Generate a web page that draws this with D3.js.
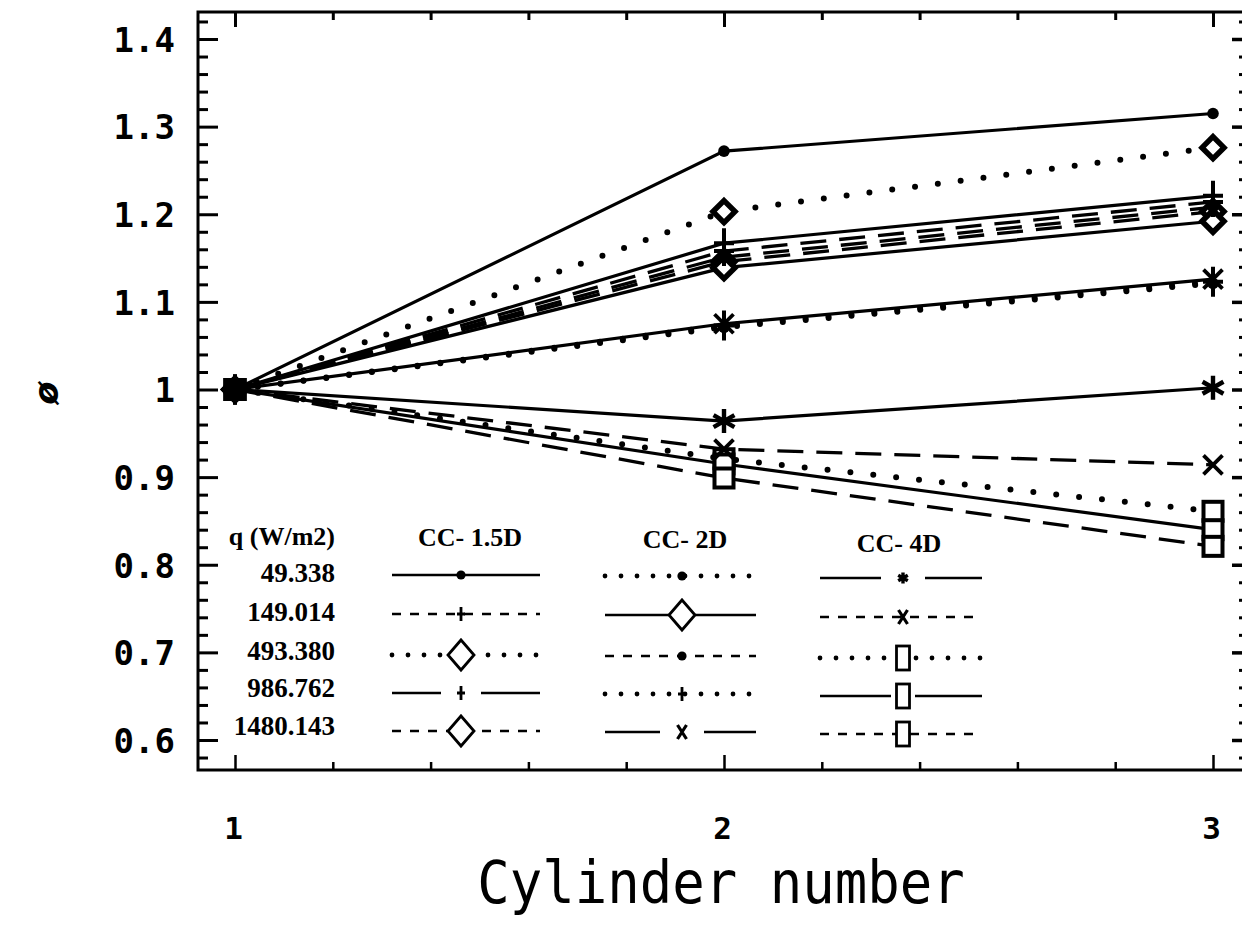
<!DOCTYPE html>
<html>
<head>
<meta charset="utf-8">
<script src="https://cdn.jsdelivr.net/npm/d3@7"></script>
<style>
  html, body { margin: 0; padding: 0; background: #fff; }
  svg { display: block; }
</style>
</head>
<body>
<svg id="chart" width="1242" height="940"></svg>
<script>
// ---- data ----
const cylinders = [1, 2, 3];
const heatFluxes = ["49.338", "149.014", "493.380", "986.762", "1480.143"];
const configs = ["CC- 1.5D", "CC- 2D", "CC- 4D"];
const yTickValues = [0.6, 0.7, 0.8, 0.9, 1.0, 1.1, 1.2, 1.3, 1.4];
const yTickLabels = ["0.6", "0.7", "0.8", "0.9", "1", "1.1", "1.2", "1.3", "1.4"];
const xTickValues = [1, 2, 3];
const xTickLabels = ["1", "2", "3"];

// phi at cylinders 1..3, one row per heat flux (same order as heatFluxes)
const cc15Values = [
  [1, 1.272, 1.315],
  [1, 1.158, 1.214],
  [1, 1.203, 1.276],
  [1, 1.167, 1.221],
  [1, 1.146, 1.203]
];
const cc2Values = [
  [1, 1.071, 1.121],
  [1, 1.139, 1.192],
  [1, 1.151, 1.208],
  [1, 1.073, 1.123],
  [1, 1.075, 1.126]
];
const cc4Values = [
  [1, 0.964, 1.002],
  [1, 0.932, 0.914],
  [1, 0.921, 0.861],
  [1, 0.915, 0.840],
  [1, 0.899, 0.821]
];

// ---- styling ----
const seriesStyles = [
  [ {line: "solid", marker: "dot"}, {line: "dashed", marker: "plus"}, {line: "dotted", marker: "diamond"},
    {line: "solid", marker: "plus"}, {line: "dashed", marker: "diamond"} ],
  [ {line: "dotted", marker: "dot"}, {line: "solid", marker: "diamond"}, {line: "dashed", marker: "dot"},
    {line: "dotted", marker: "plus"}, {line: "solid", marker: "x"} ],
  [ {line: "solid", marker: "star"}, {line: "dashed", marker: "x"}, {line: "dotted", marker: "square"},
    {line: "solid", marker: "square"}, {line: "dashed", marker: "square"} ]
];
const allValues = [cc15Values, cc2Values, cc4Values];

const plotLineStyle = {
  solid:  {width: 3.2, dash: null, cap: "butt"},
  dashed: {width: 3.3, dash: "26,13", cap: "butt"},
  dotted: {width: 6,   dash: "0,23", cap: "round"}
};
const legendLineStyle = {
  solid:  {width: 2.5, dash: null, cap: "butt"},
  dashed: {width: 2.7, dash: "9,9", cap: "butt"},
  dotted: {width: 4.8, dash: "0,16", cap: "round"}
};
const plotMarkerSize = {
  dot:     {w: 5.8, h: 5.8, sw: 0},
  plus:    {w: 10, h: 15, sw: 4},
  x:       {w: 9.5, h: 9.5, sw: 3.8},
  star:    {w: 12, h: 12, sw: 4.4},
  diamond: {w: 11, h: 11, sw: 5.5},
  square:  {w: 9.5, h: 9.5, sw: 4}
};
const legendMarkerSize = {
  dot:     {w: 4.6, h: 4.6, sw: 0},
  plus:    {w: 4, h: 7, sw: 2.8},
  x:       {w: 4.5, h: 7, sw: 3.2},
  star:    {w: 5.5, h: 5.5, sw: 3.4},
  diamond: {w: 13, h: 15, sw: 2.8},
  square:  {w: 6.5, h: 12, sw: 2.8}
};
const legendGaps = [
  [0, 0, 0, 20, 0],
  [0, 13, 0, 0, 22],
  [22, 0, 0, 12, 0]
];

// ---- layout ----
const svg = d3.select("#chart");
const frame = {left: 198, right: 1243, top: 12, bottom: 770};
const x = d3.scaleLinear().domain([1, 3]).range([235, 1213]);
const y = d3.scaleLinear().domain([0.6, 1.4]).range([740, 39]);

const monoBold = "'DejaVu Sans Mono', monospace";
const serif = "'Liberation Serif', 'Times New Roman', serif";

// frame
svg.append("path")
  .attr("d", `M${frame.right},${frame.top} H${frame.left} V${frame.bottom} H${frame.right}`)
  .attr("fill", "none").attr("stroke", "#000").attr("stroke-width", 3);

const yMinor = d3.range(0.58, 1.43, 0.02).filter(v => Math.abs(v * 10 - Math.round(v * 10)) > 0.01);
const xMinor = d3.range(1, 3.01, 0.2).filter(v => Math.abs(v - Math.round(v)) > 0.01);

function styleAxis(g, sw) {
  g.select(".domain").remove();
  g.selectAll(".tick line").attr("stroke", "#000").attr("stroke-width", sw);
}

// left axis
svg.append("g").attr("transform", `translate(${frame.left},0)`)
  .call(d3.axisLeft(y).tickValues(yMinor).tickSize(-10).tickFormat(""))
  .call(g => styleAxis(g, 3));
svg.append("g").attr("transform", `translate(${frame.left},0)`)
  .call(d3.axisLeft(y).tickValues(yTickValues).tickSize(-20).tickPadding(23)
    .tickFormat((d, i) => yTickLabels[i]))
  .call(g => styleAxis(g, 3))
  .call(g => g.selectAll("text")
    .attr("font-family", monoBold).attr("font-weight", "bold")
    .attr("font-size", 34).attr("fill", "#000").attr("dy", "0.36em"));

// right axis (mostly beyond the page edge)
svg.append("g").attr("transform", `translate(${frame.right},0)`)
  .call(d3.axisRight(y).tickValues(yMinor).tickSize(-4).tickFormat(""))
  .call(g => styleAxis(g, 3));
svg.append("g").attr("transform", `translate(${frame.right},0)`)
  .call(d3.axisRight(y).tickValues(yTickValues).tickSize(-11).tickFormat(""))
  .call(g => styleAxis(g, 3.5));

// bottom axis
svg.append("g").attr("transform", `translate(0,${frame.bottom})`)
  .call(d3.axisBottom(x).tickValues(xMinor).tickSize(-8).tickFormat(""))
  .call(g => styleAxis(g, 2.5));
svg.append("g").attr("transform", `translate(0,${frame.bottom})`)
  .call(d3.axisBottom(x).tickValues(xTickValues).tickSize(-15)
    .tickFormat((d, i) => xTickLabels[i]))
  .call(g => styleAxis(g, 2.5))
  .call(g => g.selectAll("text")
    .attr("font-family", monoBold).attr("font-weight", "bold")
    .attr("font-size", 31).attr("fill", "#000")
    .attr("y", 58).attr("dy", "0.36em").attr("dx", -2));

// top axis
svg.append("g").attr("transform", `translate(0,${frame.top})`)
  .call(d3.axisTop(x).tickValues(xMinor).tickSize(-8).tickFormat(""))
  .call(g => styleAxis(g, 3));
svg.append("g").attr("transform", `translate(0,${frame.top})`)
  .call(d3.axisTop(x).tickValues(xTickValues).tickSize(-15).tickFormat(""))
  .call(g => styleAxis(g, 3));

// axis titles
svg.append("text")
  .attr("transform", "translate(721,883) scale(1,1.08)")
  .attr("text-anchor", "middle").attr("dominant-baseline", "central")
  .attr("font-family", "'DejaVu Sans Mono', monospace")
  .attr("font-size", 54).attr("fill", "#000")
  .text("Cylinder number");

svg.append("text")
  .attr("transform", "translate(46,393) rotate(-90)")
  .attr("text-anchor", "middle").attr("dominant-baseline", "central")
  .attr("font-family", "'DejaVu Sans', sans-serif").attr("font-weight", "bold")
  .attr("font-style", "italic").attr("font-size", 34).attr("fill", "#000")
  .text("ø");

// ---- marker drawing ----
function drawMarker(g, type, s) {
  const stroke = "#000";
  if (type === "dot") {
    g.append("circle").attr("r", s.w).attr("fill", stroke);
  } else if (type === "plus") {
    g.append("path").attr("d", `M0,${-s.h}V${s.h}M${-s.w},0H${s.w}`)
      .attr("stroke", stroke).attr("stroke-width", s.sw).attr("fill", "none");
  } else if (type === "x") {
    g.append("path").attr("d", `M${-s.w},${-s.h}L${s.w},${s.h}M${-s.w},${s.h}L${s.w},${-s.h}`)
      .attr("stroke", stroke).attr("stroke-width", s.sw).attr("fill", "none");
  } else if (type === "star") {
    const a = s.w * 0.87, b = s.h * 0.5;
    g.append("path").attr("d", `M0,${-s.h}V${s.h}M${-a},${-b}L${a},${b}M${-a},${b}L${a},${-b}`)
      .attr("stroke", stroke).attr("stroke-width", s.sw).attr("fill", "none");
  } else if (type === "diamond") {
    g.append("path").attr("d", `M0,${-s.h}L${s.w},0L0,${s.h}L${-s.w},0Z`)
      .attr("stroke", stroke).attr("stroke-width", s.sw).attr("fill", "#fff")
      .attr("stroke-linejoin", "miter");
  } else if (type === "square") {
    g.append("rect").attr("x", -s.w).attr("y", -s.h)
      .attr("width", 2 * s.w).attr("height", 2 * s.h)
      .attr("stroke", stroke).attr("stroke-width", s.sw).attr("fill", "#fff");
  }
}

function applyLine(sel, st) {
  sel.attr("fill", "none").attr("stroke", "#000")
    .attr("stroke-width", st.width).attr("stroke-linecap", st.cap)
    .attr("stroke-dasharray", st.dash);
}

// ---- series lines ----
const line = d3.line().x((d, i) => x(cylinders[i])).y(d => y(d));
const linesG = svg.append("g");
allValues.forEach((rows, c) => {
  rows.forEach((vals, r) => {
    linesG.append("path").datum(vals).attr("d", line)
      .call(sel => applyLine(sel, plotLineStyle[seriesStyles[c][r].line]));
  });
});

// markers: open squares first so the other symbols stay visible on top
const markerOrder = ["square", "diamond", "x", "plus", "star", "dot"];
const markersG = svg.append("g");
markerOrder.forEach(type => {
  allValues.forEach((rows, c) => {
    rows.forEach((vals, r) => {
      if (seriesStyles[c][r].marker !== type) return;
      vals.forEach((v, i) => {
        const g = markersG.append("g").attr("transform", `translate(${x(cylinders[i])},${y(v)})`);
        drawMarker(g, type, plotMarkerSize[type]);
      });
    });
  });
});

// ---- legend ----
const legendRowsY = [575, 614, 655, 693, 731];
const legendColDy = [0, 1, 3];
const legendCols = [
  {x0: 392, x1: 540, mx: 461, hx: 470, hy: 537},
  {x0: 605, x1: 756, mx: 682, hx: 685, hy: 539},
  {x0: 820, x1: 982, mx: 903, hx: 899, hy: 543}
];
const legendG = svg.append("g");

legendG.append("text")
  .attr("x", 335).attr("y", 536)
  .attr("text-anchor", "end").attr("dominant-baseline", "central")
  .attr("font-family", serif).attr("font-weight", "bold").attr("font-size", 26)
  .text("q (W/m2)");
const fluxY = [573, 612, 651, 688, 726];
heatFluxes.forEach((q, r) => {
  legendG.append("text")
    .attr("x", 335).attr("y", fluxY[r])
    .attr("text-anchor", "end").attr("dominant-baseline", "central")
    .attr("font-family", serif).attr("font-weight", "bold").attr("font-size", 27)
    .text(q);
});

configs.forEach((name, c) => {
  const col = legendCols[c];
  legendG.append("text")
    .attr("x", col.hx).attr("y", col.hy)
    .attr("text-anchor", "middle").attr("dominant-baseline", "central")
    .attr("font-family", serif).attr("font-weight", "bold").attr("font-size", 26)
    .text(name);
  heatFluxes.forEach((q, r) => {
    const st = seriesStyles[c][r];
    const yy = legendRowsY[r] + legendColDy[c];
    const gap = legendGaps[c][r];
    const ls = legendLineStyle[st.line];
    if (gap > 0) {
      legendG.append("path").attr("d", `M${col.x0},${yy}H${col.mx - gap}`).call(s => applyLine(s, ls));
      legendG.append("path").attr("d", `M${col.mx + gap},${yy}H${col.x1}`).call(s => applyLine(s, ls));
    } else {
      legendG.append("path").attr("d", `M${col.x0},${yy}H${col.x1}`).call(s => applyLine(s, ls));
    }
    const g = legendG.append("g").attr("transform", `translate(${col.mx},${yy})`);
    drawMarker(g, st.marker, legendMarkerSize[st.marker]);
  });
});
</script>
</body>
</html>
